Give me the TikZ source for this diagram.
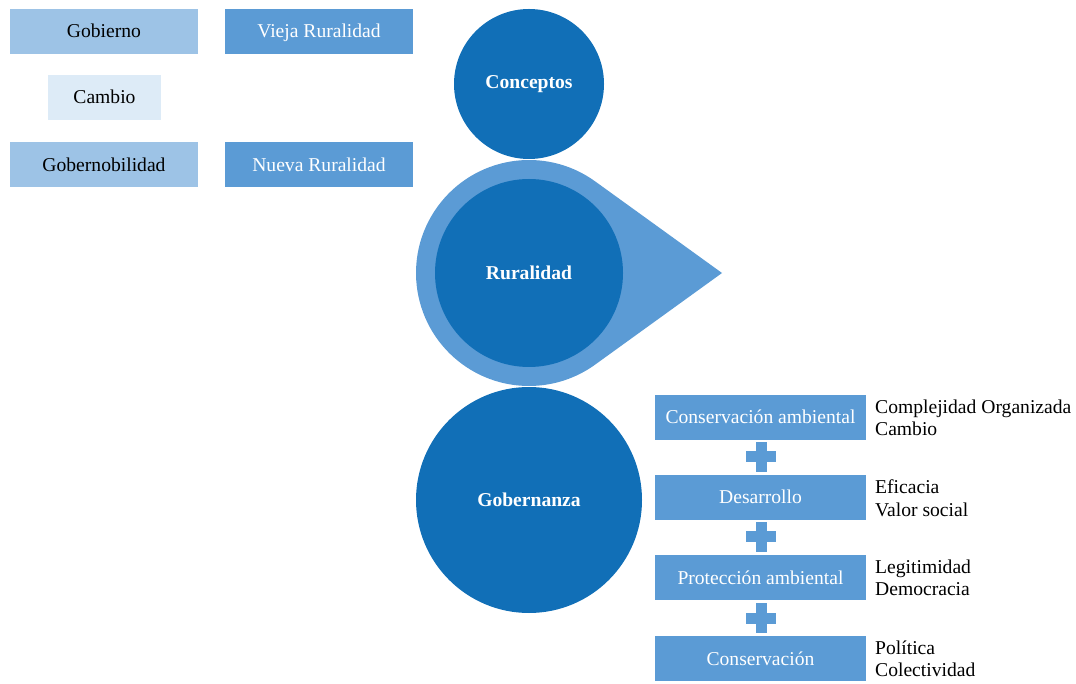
\documentclass[tikz,border=0pt]{standalone}
\usepackage{fontspec}
\setmainfont{Liberation Serif}
\usetikzlibrary{calc}
\definecolor{dblue}{HTML}{116FB7}
\definecolor{mblue}{HTML}{5B9BD5}
\definecolor{lblue}{HTML}{9DC3E6}
\definecolor{vlblue}{HTML}{DDEBF7}
\tikzset{
  txt/.style={font=\fontsize{19.6}{22.5}\selectfont},
  boxbase/.style={txt, inner sep=0pt, text height=17pt, text depth=4pt},
  lightbox/.style={boxbase, fill=lblue, text=black, minimum width=188pt, minimum height=45pt},
  midbox/.style={boxbase, fill=mblue, text=white, minimum width=188pt, minimum height=45pt},
  palebox/.style={boxbase, fill=vlblue, text=black, minimum width=113pt, minimum height=45pt},
  stagebox/.style={boxbase, fill=mblue, text=white, minimum width=211pt, minimum height=45pt},
  bigcircle/.style={circle, fill=dblue, text=white, inner sep=0pt, font=\fontsize{19.6}{23}\selectfont\bfseries},
  sidetext/.style={txt, anchor=west, align=left, inner sep=0pt, text=black},
  plussign/.pic={\fill[mblue] (-15,-5.5) rectangle (15,5.5); \fill[mblue] (-5.5,-15) rectangle (5.5,15);}
}
\begin{document}
\begin{tikzpicture}[x=1pt,y=1pt]
\useasboundingbox (0,0) rectangle (1076,683);
% left concept boxes
\node[lightbox] (gobierno) at (104,651.5) {Gobierno};
\node[midbox] (vieja) at (319,651.5) {Vieja Ruralidad};
\node[palebox] (cambio) at (104.5,585.5) {Cambio};
\node[lightbox] (gobernob) at (104,518) {Gobernobilidad};
\node[midbox] (nueva) at (319,518) {Nueva Ruralidad};
% circles
\node[bigcircle, minimum size=150pt] (conceptos) at (529,599) {Conceptos};
\coordinate (rc) at (529,410);
\coordinate (tip) at (722,410);
\fill[mblue] (tip) -- ($(rc)+(54.2:113)$) arc[start angle=54.2, end angle=305.8, radius=113] -- cycle;
\node[bigcircle, minimum size=188pt] (ruralidad) at (rc) {Ruralidad};
\node[bigcircle, minimum size=226pt] (gobernanza) at (529,183) {Gobernanza};
% stage boxes
\node[stagebox] (s1) at (760.5,265.5) {Conservación ambiental};
\node[stagebox] (s2) at (760.5,185.5) {Desarrollo};
\node[stagebox] (s3) at (760.5,105.5) {Protección ambiental};
\node[stagebox] (s4) at (760.5,24.5) {Conservación};
\pic at (761,226) {plussign};
\pic at (761,146) {plussign};
\pic at (761,65) {plussign};
% side texts
\node[sidetext] (t1) at (875,265) {Complejidad Organizada\\Cambio};
\node[sidetext] (t2) at (875,185) {Eficacia\\Valor social};
\node[sidetext] (t3) at (875,105) {Legitimidad\\Democracia};
\node[sidetext] (t4) at (875,24) {Política\\Colectividad};
\end{tikzpicture}
\end{document}
